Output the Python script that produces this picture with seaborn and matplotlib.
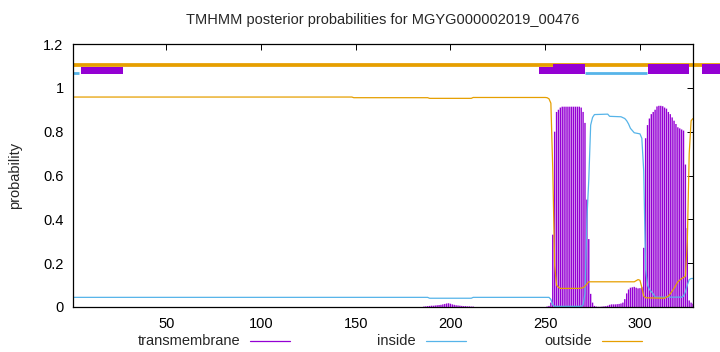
import matplotlib
matplotlib.use("Agg")
import matplotlib.pyplot as plt
import seaborn as sns
import pandas as pd
from matplotlib.patches import Rectangle
from matplotlib.lines import Line2D

sns.set_style("white")
plt.rcParams["font.family"] = ["Liberation Sans", "DejaVu Sans"]

PURPLE = "#9400D3"
BLUE = "#56B4E9"
ORANGE = "#E69F00"

title = "TMHMM posterior probabilities for MGYG000002019_00476"
x_ticks = [50, 100, 150, 200, 250, 300]
y_ticks = [0, 0.2, 0.4, 0.6, 0.8, 1.0, 1.2]
y_tick_labels = ["0", "0.2", "0.4", "0.6", "0.8", "1", "1.2"]
legend_labels = ["transmembrane", "inside", "outside"]

# transmembrane posterior (impulses)
tm_pos = list(range(186, 213)) + list(range(250, 329))
tm_val = [0.002, 0.003, 0.004, 0.005, 0.006, 0.006, 0.007, 0.008, 0.009, 0.010,
          0.012, 0.014, 0.016, 0.017, 0.015, 0.012, 0.010, 0.008, 0.007, 0.006,
          0.005, 0.004, 0.004, 0.003, 0.003, 0.002, 0.002,
          0.0, 0.002, 0.005, 0.02, 0.33, 0.80, 0.89, 0.90, 0.91, 0.914,
          0.914, 0.914, 0.914, 0.914, 0.914, 0.914, 0.914, 0.914, 0.914, 0.91,
          0.89, 0.84, 0.49, 0.31, 0.06, 0.02, 0.005, 0.002, 0.001, 0.001,
          0.002, 0.003, 0.004, 0.006, 0.01, 0.012, 0.012, 0.012, 0.013, 0.014,
          0.016, 0.02, 0.036, 0.062, 0.08, 0.088, 0.09, 0.092, 0.088, 0.085,
          0.086, 0.09, 0.27, 0.77, 0.83, 0.86, 0.88, 0.89, 0.90, 0.915,
          0.918, 0.918, 0.916, 0.91, 0.905, 0.89, 0.88, 0.865, 0.85, 0.835,
          0.82, 0.815, 0.81, 0.805, 0.65, 0.36, 0.03, 0.02, 0.015]

# inside posterior (line)
inside_pos = [1, 188, 189, 211, 212, 252, 253, 254, 255, 269, 270, 271, 272, 273,
              274, 275, 276, 283, 284, 290, 292, 293, 294, 295, 296, 297, 300, 301,
              302, 303, 304, 305, 306, 307, 308, 322, 323, 324, 325, 326, 327, 328]
inside_val = [0.044, 0.044, 0.040, 0.040, 0.044, 0.044, 0.035, 0.01, 0.003, 0.003,
              0.01, 0.06, 0.40, 0.58, 0.83, 0.865, 0.878, 0.88, 0.87, 0.868, 0.86,
              0.85, 0.835, 0.815, 0.805, 0.795, 0.79, 0.77, 0.62, 0.17, 0.10, 0.08,
              0.07, 0.06, 0.045, 0.045, 0.05, 0.07, 0.10, 0.125, 0.13, 0.13]

# outside posterior (line)
outside_pos = [1, 148, 149, 188, 189, 211, 212, 250, 251, 252, 253, 254, 255, 256,
               257, 258, 268, 270, 271, 272, 273, 297, 298, 299, 300, 301, 302, 303,
               313, 315, 316, 318, 320, 322, 324, 325, 326, 327, 328]
outside_val = [0.958, 0.958, 0.955, 0.955, 0.952, 0.952, 0.956, 0.956, 0.955, 0.95,
               0.93, 0.63, 0.19, 0.10, 0.09, 0.085, 0.085, 0.088, 0.095, 0.105,
               0.115, 0.115, 0.12, 0.125, 0.122, 0.09, 0.05, 0.042, 0.04, 0.05,
               0.06, 0.085, 0.115, 0.13, 0.14, 0.30, 0.70, 0.85, 0.86]

# predicted topology bars at the top
tm_box_start = [254, 304, 333]
tm_box_end = [271, 326, 345]
tm_low_start = [5, 247]
tm_low_end = [27, 254]
inside_seg_start = [1, 271]
inside_seg_end = [4, 303.5]
outside_seg_start = [1]
outside_seg_end = [345]

fig = plt.figure(figsize=(7.2, 3.52), dpi=100)
ax = fig.add_axes([73.3 / 720, 45 / 352, (693 - 73.3) / 720, 263 / 352])

ax.vlines(tm_pos, 0, tm_val, color=PURPLE, lw=1.0, zorder=2, snap=False)

df_in = pd.DataFrame({"residue": inside_pos, "prob": inside_val})
df_out = pd.DataFrame({"residue": outside_pos, "prob": outside_val})
sns.lineplot(data=df_in, x="residue", y="prob", color=BLUE, lw=0.9,
             estimator=None, ax=ax, zorder=3)
sns.lineplot(data=df_out, x="residue", y="prob", color=ORANGE, lw=0.9,
             estimator=None, ax=ax, zorder=4)

# topology annotations
for s, e in zip(tm_low_start, tm_low_end):
    ax.add_patch(Rectangle((s, 1.061), e - s, 0.035, facecolor=PURPLE,
                           edgecolor="none", clip_on=False, zorder=5))
for s, e in zip(outside_seg_start, outside_seg_end):
    ax.plot([s, e], [1.106, 1.106], color=ORANGE, lw=2.7, clip_on=False,
            solid_capstyle="butt", zorder=6)
for s, e in zip(inside_seg_start, inside_seg_end):
    ax.plot([s, e], [1.067, 1.067], color=BLUE, lw=2.0, clip_on=False,
            solid_capstyle="butt", zorder=6)
for s, e in zip(tm_box_start, tm_box_end):
    ax.add_patch(Rectangle((s, 1.061), e - s, 0.049, facecolor=PURPLE,
                           edgecolor="none", clip_on=False, zorder=7))

ax.set_xlim(1, 328)
ax.set_ylim(0, 1.2)
ax.set_xticks(x_ticks)
ax.set_xticklabels([str(t) for t in x_ticks])
ax.set_yticks(y_ticks)
ax.set_yticklabels(y_tick_labels)
ax.set_xlabel("")
ax.set_ylabel("")
ax.tick_params(direction="in", length=4, width=0.7, top=True, right=True,
               labelsize=10.5, colors="black")
ax.tick_params(axis="x", pad=7)
ax.tick_params(axis="y", pad=7)
for sp in ax.spines.values():
    sp.set_color("black")
    sp.set_linewidth(0.9)
    sp.set_zorder(8)

fig.text(383 / 720, 1 - 20 / 352, title, ha="center", va="center", fontsize=10.5)
fig.text(15 / 720, 1 - 175 / 352, "probability", ha="center", va="center",
         rotation=90, fontsize=10.5)

legend_colors = [PURPLE, BLUE, ORANGE]
text_right = [240, 416, 592]
ly = 11 / 352
for lab, col, tr in zip(legend_labels, legend_colors, text_right):
    fig.text(tr / 720, ly, lab, ha="right", va="center", fontsize=10.5)
    fig.add_artist(Line2D([(tr + 10) / 720, (tr + 50) / 720], [ly, ly],
                          color=col, lw=0.9, transform=fig.transFigure))

fig.savefig("out.png", dpi=100)
